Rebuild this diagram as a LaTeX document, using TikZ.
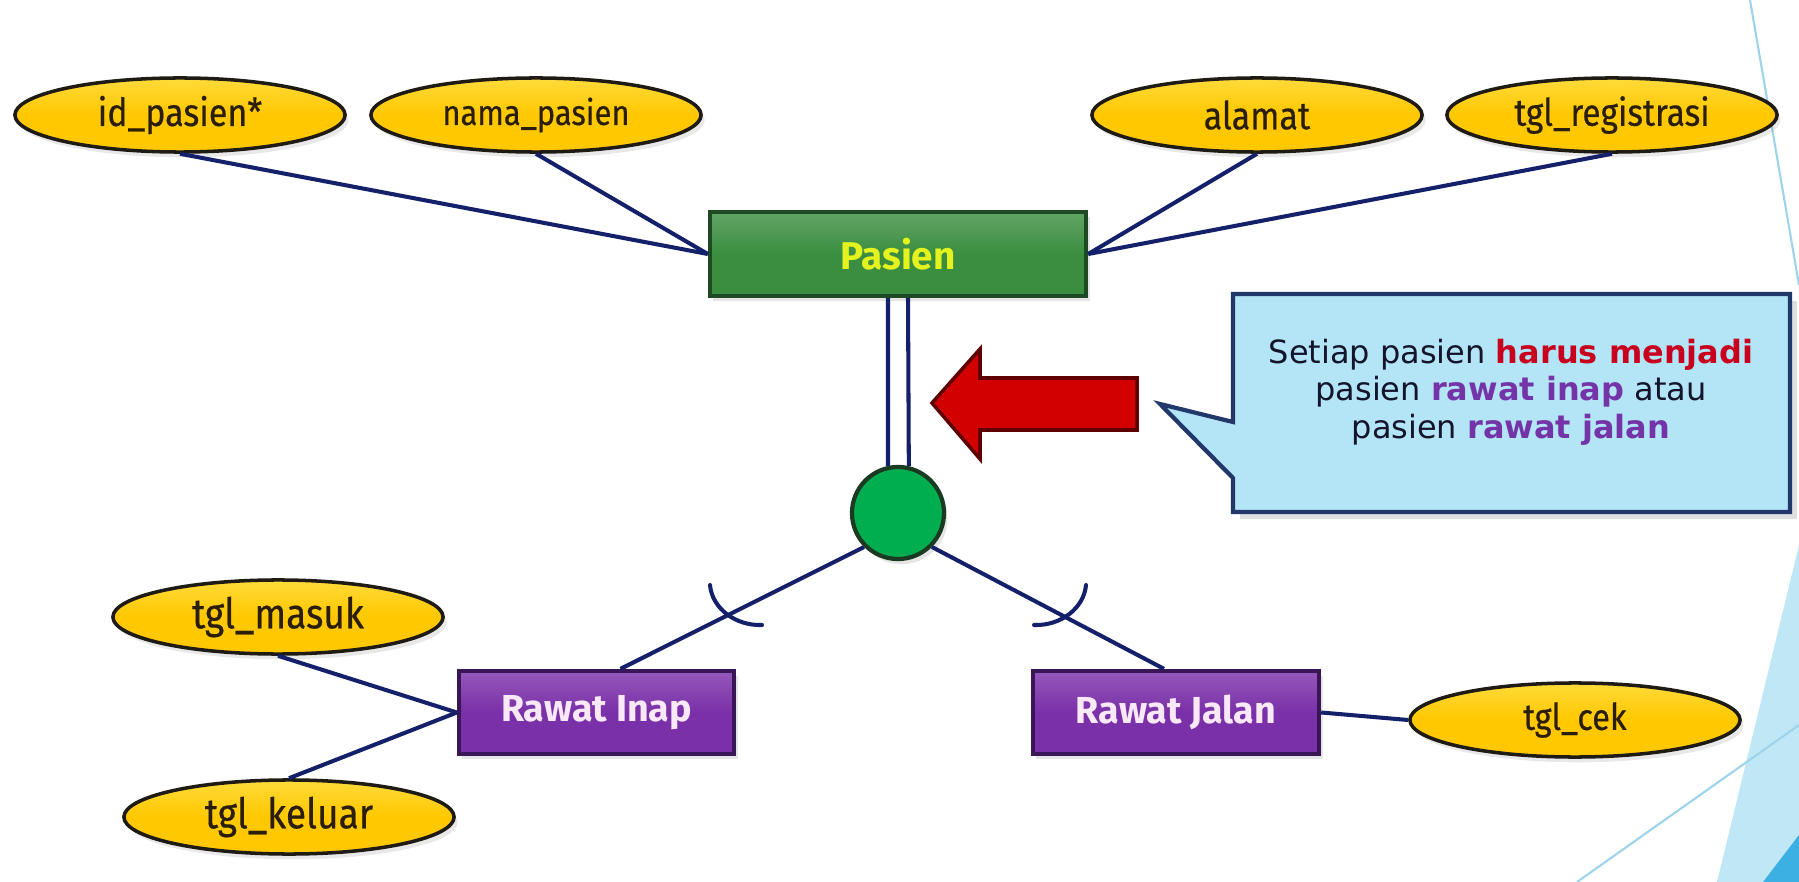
\documentclass[tikz,border=0pt]{standalone}
\usepackage{fontspec}
\setmainfont{Fira Sans}
\newfontfamily\attrfont[FakeStretch=0.88, FakeBold=0.4]{Fira Sans}
\newfontfamily\notefont{DejaVu Sans}
\usetikzlibrary{shapes.geometric,shadows,calc}

\definecolor{attrfill}{HTML}{FFC800}
\definecolor{attrtop}{HTML}{FFDA3A}
\definecolor{attrline}{HTML}{1E1A14}
\definecolor{attrtext}{HTML}{2A1E08}
\definecolor{wire}{HTML}{14206A}
\definecolor{entgreen}{HTML}{3B8E40}
\definecolor{entgreenline}{HTML}{1D4A22}
\definecolor{subpurple}{HTML}{7A30A8}
\definecolor{subpurpleline}{HTML}{3A1656}
\definecolor{discgreen}{HTML}{00AE50}
\definecolor{discline}{HTML}{1A3A22}
\definecolor{arrowred}{HTML}{D20000}
\definecolor{arrowline}{HTML}{5E0000}
\definecolor{notefill}{HTML}{B3E5F7}
\definecolor{noteline}{HTML}{22386A}
\definecolor{notered}{HTML}{C8001E}
\definecolor{notepurple}{HTML}{7434A8}
\definecolor{notetext}{HTML}{14142A}
\definecolor{decoline}{HTML}{9ED4EA}
\definecolor{decopale}{HTML}{BFE7F6}
\definecolor{decodeep}{HTML}{3CB0E2}

\tikzset{
  attr/.style={ellipse, draw=attrline, line width=1pt, inner sep=0pt,
    top color=attrtop, bottom color=attrfill, middle color=attrfill,
    minimum width=3.3cm, minimum height=0.74cm, text=attrtext,
    drop shadow={opacity=0.18, shadow xshift=1pt, shadow yshift=-1.5pt}},
  entity/.style={rectangle, draw=entgreenline, line width=1.2pt,
    top color=entgreen!80!white, bottom color=entgreen, middle color=entgreen,
    minimum width=3.76cm, minimum height=0.84cm, inner sep=0pt,
    font=\fontsize{11}{13}\selectfont\bfseries, text={rgb,255:red,228;green,242;blue,30},
    drop shadow={opacity=0.2, shadow xshift=1pt, shadow yshift=-1.5pt}},
  subent/.style={rectangle, draw=subpurpleline, line width=1.2pt,
    top color=subpurple!80!white, bottom color=subpurple, middle color=subpurple,
    minimum height=0.83cm, inner sep=0pt,
    font=\fontsize{10.7}{13}\selectfont\bfseries, text={rgb,255:red,248;green,232;blue,248},
    drop shadow={opacity=0.2, shadow xshift=1pt, shadow yshift=-1.5pt}},
  disc/.style={circle, draw=discline, line width=1.2pt, fill=discgreen,
    minimum size=0.92cm, inner sep=0pt,
    drop shadow={opacity=0.2, shadow xshift=1pt, shadow yshift=-1.5pt}},
  conn/.style={draw=wire, line width=1.15pt},
  subsetarc/.style={draw=wire, line width=1.15pt, line cap=round},
}

\begin{document}
\begin{tikzpicture}[x=0.01cm, y=-0.01cm]
\useasboundingbox (0,0) rectangle (1799,882);
\fill[white] (0,0) rectangle (1799,882);

% slide theme ornaments at the right edge
\fill[decopale] (1799,545) -- (1717,882) -- (1799,882) -- cycle;
\fill[decodeep] (1763,882) -- (1799,835) -- (1799,882) -- cycle;
\draw[decoline, line width=0.6pt] (1750,0) -- (1799,285);
\draw[decoline, line width=0.6pt] (1577,882) -- (1799,725);

% attributes of the superclass
\node[attr, font=\attrfont\fontsize{11}{13}\selectfont] (id) at (180,115) {id\_pasien*};
\node[attr, font=\attrfont\fontsize{10}{12}\selectfont] (nama) at (536,115) {nama\_pasien};
\node[attr, font=\attrfont\fontsize{11}{13}\selectfont] (alamat) at (1257,115) {alamat};
\node[attr, font=\attrfont\fontsize{10.8}{12}\selectfont] (treg) at (1612,115) {tgl\_registrasi};

% superclass, disjoint circle and subclasses
\node[entity] (pasien) at (898,254) {Pasien};
\node[disc] (circ) at (898,513) {};
\node[subent, minimum width=2.75cm] (ri) at (596.5,712.5) {Rawat Inap};
\node[subent, minimum width=2.86cm] (rj) at (1176,712.5) {Rawat Jalan};

% attributes of the subclasses
\node[attr, font=\attrfont\fontsize{12}{14}\selectfont] (masuk) at (278,617) {tgl\_masuk};
\node[attr, font=\attrfont\fontsize{12}{14}\selectfont] (keluar) at (289,817) {tgl\_keluar};
\node[attr, font=\attrfont\fontsize{10.5}{12}\selectfont] (cek) at (1575,720) {tgl\_cek};

% attribute links
\draw[conn] (id.south) -- (pasien.west);
\draw[conn] (nama.south) -- (pasien.west);
\draw[conn] (alamat.south) -- (pasien.east);
\draw[conn] (treg.south) -- (pasien.east);
\draw[conn] (masuk.south) -- (ri.west);
\draw[conn] (keluar.north) -- (ri.west);
\draw[conn] (cek.west) -- (rj.east);

% total participation: double line into the circle
\draw[conn] ([xshift=-0.1cm]pasien.south) -- (circ.102.5);
\draw[conn] ([xshift=0.1cm]pasien.south) -- (circ.77.5);

% specialisation links with subset marks
\draw[conn] (circ.225) -- ([xshift=0.24cm]ri.north);
\draw[conn] (circ.-45) -- ([xshift=-0.12cm]rj.north);
\draw[subsetarc] (710,585) .. controls (712,608) and (735,626) .. (762,625);
\draw[subsetarc] (1086,585) .. controls (1084,608) and (1061,626) .. (1034,625);

% block arrow
\path[fill=arrowred, draw=arrowline, line width=1pt, line join=miter]
  (932,403) -- (980,349) -- (980,378) -- (1137,378) -- (1137,430)
  -- (980,430) -- (980,459) -- cycle;

% speech bubble
\path[fill=notefill, draw=noteline, line width=1.2pt, line join=miter,
      drop shadow={opacity=0.25, shadow xshift=2pt, shadow yshift=-2pt}]
  (1233,294) -- (1790,294) -- (1790,512) -- (1233,512) -- (1233,478)
  -- (1160,404) -- (1233,422) -- cycle;
\node[align=center, text=notetext, font=\notefont\fontsize{9.1}{10.7}\selectfont] (note) at (1511,392)
  {Setiap pasien \textcolor{notered}{\bfseries harus menjadi}\\
   pasien \textcolor{notepurple}{\bfseries rawat inap} atau\\
   pasien \textcolor{notepurple}{\bfseries rawat jalan}};
\end{tikzpicture}
\end{document}
